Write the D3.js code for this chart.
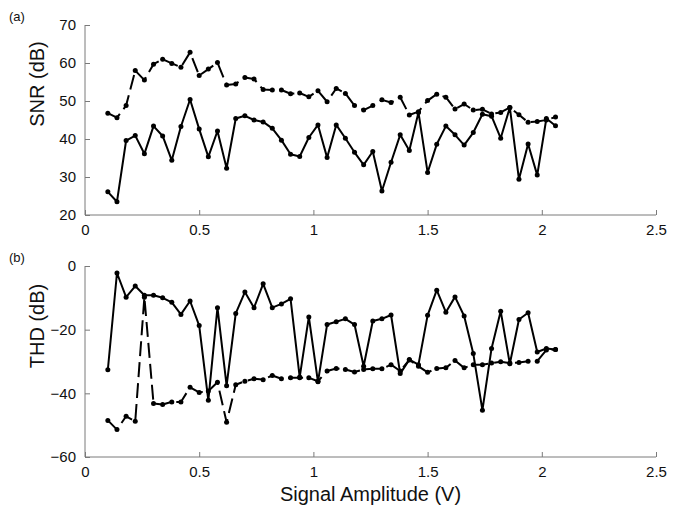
<!DOCTYPE html>
<html lang="en">
<head>
<meta charset="UTF-8">
<title>SNR and THD vs Signal Amplitude</title>
<script src="https://cdnjs.cloudflare.com/ajax/libs/d3/7.8.5/d3.min.js"></script>
<style>
    body {
        margin: 0;
        background: #fff;
        font-family: 'Liberation Sans', Arial, sans-serif;
    }
    .axis path, .axis line { stroke: #7a7a7a; }
    .axis text { fill: #111; font-size: 15px; font-family: 'Liberation Sans', Arial, sans-serif; }
    .title { fill: #111; font-size: 20px; }
    .tag { fill: #111; font-size: 13px; }
</style>
</head>
<body>
<div id="chart"></div>
<script>
// signal amplitude (V) for every sample
const amplitude = [0.10, 0.14, 0.18, 0.22, 0.26, 0.30, 0.34, 0.38, 0.42, 0.46,
    0.50, 0.54, 0.58, 0.62, 0.66, 0.70, 0.74, 0.78, 0.82, 0.86,
    0.90, 0.94, 0.98, 1.02, 1.06, 1.10, 1.14, 1.18, 1.22, 1.26,
    1.30, 1.34, 1.38, 1.42, 1.46, 1.50, 1.54, 1.58, 1.62, 1.66,
    1.70, 1.74, 1.78, 1.82, 1.86, 1.90, 1.94, 1.98, 2.02, 2.06];

// (a) SNR, dB
const snrSolid = [26.1, 23.5, 39.6, 40.9, 36.1, 43.4, 40.8, 34.4, 43.3, 50.4,
    42.6, 35.3, 42.1, 32.3, 45.4, 46.1, 45.0, 44.5, 42.8, 39.7,
    36.0, 35.4, 40.4, 43.7, 35.1, 43.7, 40.2, 36.5, 33.2, 36.7,
    26.3, 33.9, 41.1, 37.0, 47.0, 31.2, 38.6, 43.4, 41.1, 38.4,
    41.7, 46.5, 46.0, 40.2, 48.3, 29.4, 38.7, 30.5, 45.4, 43.5];
const snrDashed = [46.8, 45.6, 48.8, 58.0, 55.5, 59.7, 61.0, 59.9, 58.9, 62.8,
    56.7, 58.4, 60.1, 54.2, 54.5, 56.2, 55.8, 53.0, 52.9, 52.9,
    51.9, 52.1, 51.1, 52.7, 49.8, 53.3, 52.0, 48.8, 47.6, 48.8,
    50.3, 49.6, 51.0, 46.3, 47.2, 50.1, 51.8, 51.0, 47.9, 49.2,
    47.6, 47.8, 46.6, 47.0, 48.3, 46.4, 44.4, 44.6, 45.0, 45.8];

// (b) THD, dB
const thdSolid = [-32.6, -2.2, -9.8, -6.3, -9.2, -9.2, -10.0, -11.4, -15.2, -11.0,
    -18.7, -42.2, -13.1, -37.6, -14.9, -8.2, -13.1, -5.6, -13.1, -11.9,
    -10.3, -34.9, -16.0, -36.4, -18.4, -17.5, -16.6, -18.4, -31.5, -17.3,
    -16.6, -15.4, -33.8, -29.4, -31.0, -15.5, -7.6, -14.5, -9.7, -15.7,
    -27.5, -45.3, -25.9, -14.2, -30.7, -16.8, -14.7, -27.0, -25.9, -26.2];
const thdDashed = [-48.5, -51.4, -47.2, -48.8, -9.8, -43.2, -43.5, -42.7, -42.7, -38.1,
    -39.7, -39.3, -36.5, -49.1, -37.3, -36.2, -35.4, -35.7, -34.4, -35.4,
    -35.1, -35.1, -35.1, -36.2, -33.0, -32.2, -32.5, -33.3, -32.5, -32.3,
    -32.3, -31.0, -33.0, -29.5, -31.5, -33.4, -32.2, -32.0, -29.7, -32.0,
    -31.0, -31.0, -30.5, -30.1, -30.5, -30.3, -29.9, -29.9, -26.4, -26.2];

const xTicks = [0, 0.5, 1, 1.5, 2, 2.5];
const snrTicks = [20, 30, 40, 50, 60, 70];
const thdTicks = [-60, -40, -20, 0];

const width = 682, height = 510;
const svg = d3.select("#chart").append("svg")
    .attr("width", width)
    .attr("height", height);

const x = d3.scaleLinear().domain([0, 2.5]).range([85, 656]);

const panels = [
    { tag: "(a)", label: "SNR (dB)", domain: [20, 70], range: [215, 25], ticks: snrTicks,
      labelY: 84, solid: snrSolid, dashed: snrDashed },
    { tag: "(b)", label: "THD (dB)", domain: [-60, 0], range: [457, 266], ticks: thdTicks,
      labelY: 326, solid: thdSolid, dashed: thdDashed }
];

panels.forEach(p => {
    const y = d3.scaleLinear().domain(p.domain).range(p.range);
    const g = svg.append("g");

    // axes, ticks pointing inward
    g.append("g")
        .attr("class", "axis")
        .attr("transform", `translate(0,${p.range[0]})`)
        .call(d3.axisBottom(x).tickValues(xTicks).tickSize(-5).tickPadding(9)
            .tickFormat(d3.format("~g")))
        .call(a => a.select(".domain").attr("d", `M${x.range()[0]},0H${x.range()[1]}`));

    g.append("g")
        .attr("class", "axis")
        .attr("transform", `translate(${x.range()[0]},0)`)
        .call(d3.axisLeft(y).tickValues(p.ticks).tickSize(-5).tickPadding(9))
        .call(a => a.select(".domain").attr("d", `M0,${p.range[0]}V${p.range[1]}`));

    const line = d3.line()
        .x((d, i) => x(amplitude[i]))
        .y(d => y(d));

    [["solid", null], ["dashed", "15,6"]].forEach(([key, dash]) => {
        g.append("path")
            .datum(p[key])
            .attr("fill", "none")
            .attr("stroke", "#000")
            .attr("stroke-width", 2)
            .attr("stroke-linejoin", "round")
            .attr("stroke-dasharray", dash)
            .attr("d", line);

        g.selectAll(null)
            .data(p[key])
            .enter().append("circle")
            .attr("cx", (d, i) => x(amplitude[i]))
            .attr("cy", d => y(d))
            .attr("r", 2.5)
            .attr("fill", "#000");
    });

    g.append("text")
        .attr("class", "title")
        .attr("transform", `translate(44,${p.labelY}) rotate(-90)`)
        .attr("text-anchor", "middle")
        .text(p.label);

    g.append("text")
        .attr("class", "tag")
        .attr("x", 9)
        .attr("y", p.range[1] - 4)
        .text(p.tag);
});

svg.append("text")
    .attr("class", "title")
    .attr("x", (x.range()[0] + x.range()[1]) / 2)
    .attr("y", 501)
    .attr("text-anchor", "middle")
    .text("Signal Amplitude (V)");
</script>
</body>
</html>
